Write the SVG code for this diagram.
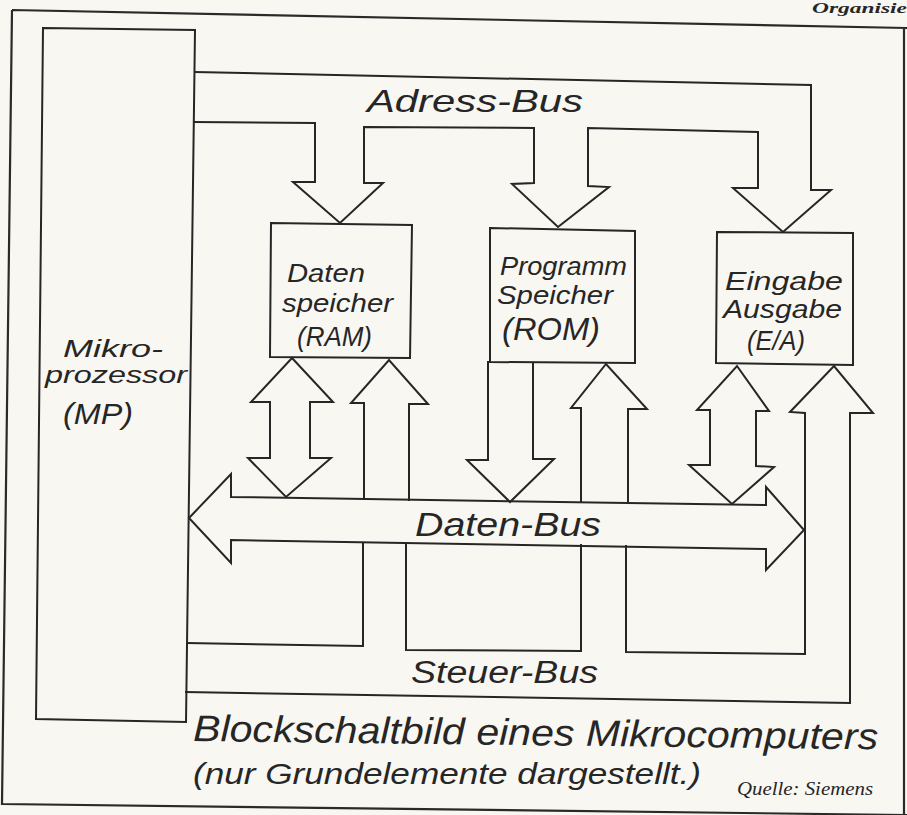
<svg xmlns="http://www.w3.org/2000/svg" width="907" height="815" viewBox="0 0 907 815">
<style>
.ln{fill:none;stroke:#262626;stroke-width:2;stroke-linejoin:miter;stroke-linecap:square}
.fr{fill:none;stroke:#2a2a2a;stroke-width:2.2}
.hw{font-family:"Liberation Sans",Arial,sans-serif;font-style:italic;font-weight:400;fill:#262626}
.sf{font-family:"Liberation Serif","Times New Roman",serif;font-style:italic;fill:#262626}
</style>
<rect x="0" y="0" width="907" height="815" fill="#f9f7f2"/>
<g id="frame">
<path class="fr" d="M12,10 L907,28 M12,10 L2,804 L907,815 M904,28 L904,815"/>
<text class="sf" x="812" y="13" font-size="14" font-weight="700" textLength="95" lengthAdjust="spacingAndGlyphs">Organisie</text>
</g>
<g id="mp">
<polygon class="ln" points="43,28 195,30 186,722 36,719"/>
<text class="hw" x="63" y="357" font-size="23" textLength="100" lengthAdjust="spacingAndGlyphs">Mikro-</text>
<text class="hw" x="45" y="383" font-size="23" textLength="142" lengthAdjust="spacingAndGlyphs">prozessor</text>
<text class="hw" x="63" y="424" font-size="29" textLength="70" lengthAdjust="spacingAndGlyphs">(MP)</text>
</g>
<g id="ram">
<polygon class="ln" points="271,223 412,225 410,358 270,357"/>
<text class="hw" x="287" y="282" font-size="26" textLength="78" lengthAdjust="spacingAndGlyphs">Daten</text>
<text class="hw" x="282" y="312" font-size="26" textLength="111" lengthAdjust="spacingAndGlyphs">speicher</text>
<text class="hw" x="297" y="346" font-size="28" textLength="75" lengthAdjust="spacingAndGlyphs">(RAM)</text>
</g>
<g id="rom">
<polygon class="ln" points="490,228 635,231 635,363 490,362"/>
<text class="hw" x="500" y="275" font-size="25" textLength="127" lengthAdjust="spacingAndGlyphs">Programm</text>
<text class="hw" x="497" y="304" font-size="25" textLength="116" lengthAdjust="spacingAndGlyphs">Speicher</text>
<text class="hw" x="502" y="340" font-size="31" textLength="98" lengthAdjust="spacingAndGlyphs">(ROM)</text>
</g>
<g id="ea">
<polygon class="ln" points="717,232 853,233 853,365 716,363"/>
<text class="hw" x="725" y="290" font-size="25" textLength="118" lengthAdjust="spacingAndGlyphs">Eingabe</text>
<text class="hw" x="723" y="318" font-size="25" textLength="119" lengthAdjust="spacingAndGlyphs">Ausgabe</text>
<text class="hw" x="747" y="350" font-size="28" textLength="58" lengthAdjust="spacingAndGlyphs">(E/A)</text>
</g>
<g id="connectors">
<polyline id="adress-bus" class="ln" points="195,72 811,85 811,190 831,190 783,232 733,188 758,188 758,132 588,128 588,186 609,187 558,227 512,184 534,183 534,128 364,127 364,183 383,183 340,223 293,182 315,182 315,123 194,122"/>
<polygon id="daten-bus" class="ln" points="189,518 231,474 231,497 766,505 766,487 804,530 766,570 766,549 231,540 231,563"/>
<polygon id="ram-bidir" class="ln" points="292,358 333,402 310,402 310,458 331,458 286,497 248,458 270,458 270,402 251,402"/>
<polyline id="ram-up" class="ln" points="364,499 364,403 351,403 389,360 428,404 409,404 409,500"/>
<polyline id="rom-down" class="ln" points="488,362 488,460 467,460 510,502 554,459 533,459 533,363"/>
<polyline id="rom-up" class="ln" points="581,502 581,408 571,408 606,364 647,409 628,409 628,503"/>
<polygon id="ea-bidir" class="ln" points="737,366 769,411 756,411 756,466 774,467 732,504 689,465 710,465 710,410 697,410"/>
<polyline id="steuer-a" class="ln" points="187,643 363,646 363,543"/>
<polyline id="steuer-b" class="ln" points="406,543 406,650 581,651 581,545"/>
<polyline id="steuer-c" class="ln" points="626,546 626,652 805,654 805,413 790,412 834,366 873,413 850,413 850,703 186,692"/>
</g>
<g id="labels">
<text class="hw" x="367" y="112" font-size="32" textLength="216" lengthAdjust="spacingAndGlyphs">Adress-Bus</text>
<text class="hw" x="415" y="536" font-size="33" textLength="186" lengthAdjust="spacingAndGlyphs">Daten-Bus</text>
<text class="hw" x="411" y="683" font-size="31" textLength="187" lengthAdjust="spacingAndGlyphs">Steuer-Bus</text>
</g>
<g id="caption">
<text class="hw" x="193" y="741" font-size="37" textLength="685" lengthAdjust="spacingAndGlyphs" transform="rotate(0.7 193 741)">Blockschaltbild eines Mikrocomputers</text>
<text class="hw" x="193" y="784" font-size="30" textLength="508" lengthAdjust="spacingAndGlyphs">(nur Grundelemente dargestellt.)</text>
<text class="sf" x="737" y="795" font-size="19" textLength="136" lengthAdjust="spacingAndGlyphs">Quelle: Siemens</text>
</g>
</svg>
